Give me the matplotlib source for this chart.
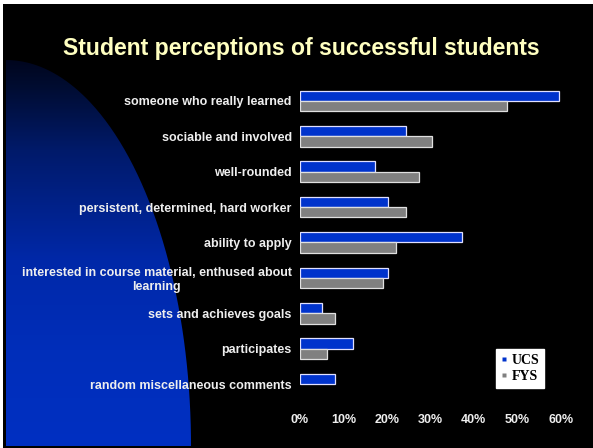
import numpy as np
import matplotlib
matplotlib.use("Agg")
import matplotlib.pyplot as plt
from matplotlib.patches import Rectangle, PathPatch
from matplotlib.path import Path
from matplotlib.lines import Line2D

# ---- data ----
categories = [
    "someone who really learned",
    "sociable and involved",
    "well-rounded",
    "persistent, determined, hard worker",
    "ability to apply",
    "interested in course material, enthused about\nlearning",
    "sets and achieves goals",
    "participates",
    "random miscellaneous comments",
]
ucs = [59.6, 24.3, 17.3, 20.3, 37.3, 20.3, 5.1, 12.1, 8.1]
fys = [47.6, 30.4, 27.3, 24.3, 22.2, 19.2, 8.1, 6.1, 0.0]
series_names = ["UCS", "FYS"]
x_ticks = [0, 10, 20, 30, 40, 50, 60]
x_tick_labels = ["0%", "10%", "20%", "30%", "40%", "50%", "60%"]

UCS_COLOR = "#0033CC"
FYS_COLOR = "#808080"
TEXT_COLOR = "#EEEEEE"
SANS = ["Liberation Sans", "DejaVu Sans"]

W, H = 593, 448
fig = plt.figure(figsize=(W / 100, H / 100), dpi=100, facecolor="white")

# ---- slide background: black panel with a blue quarter-ellipse ----
bg = fig.add_axes([0, 0, 1, 1], zorder=0)
bg.set_xlim(0, W)
bg.set_ylim(H, 0)
bg.axis("off")
bg.add_patch(Rectangle((3, 4), W - 3, H - 4, color="black", lw=0, zorder=0))

cx, cy, a, b = 6, 446, 185, 386
t = np.linspace(0, np.pi / 2, 200)
arc = np.column_stack([cx + a * np.sin(t), cy - b * np.cos(t)])
verts = np.vstack([[cx, cy], arc, [cx, cy]])
shape = PathPatch(Path(verts), facecolor="none", edgecolor="none",
                  transform=bg.transData, zorder=1)
bg.add_patch(shape)

ys = np.linspace(cy - b, cy, 400)
stops_y = [60, 85, 150, 260, 350, 446]
stops_r = [0, 0, 0, 0, 0, 0]
stops_g = [6, 12, 26, 40, 46, 48]
stops_b = [30, 48, 106, 168, 186, 194]
grad = np.stack([
    np.interp(ys, stops_y, stops_r),
    np.interp(ys, stops_y, stops_g),
    np.interp(ys, stops_y, stops_b),
], axis=-1)[:, None, :] / 255.0
img = bg.imshow(grad, extent=(cx, cx + a, cy, cy - b), origin="upper",
                aspect="auto", interpolation="bilinear", zorder=2)
img.set_clip_path(shape)
bg.set_xlim(0, W)
bg.set_ylim(H, 0)

# ---- title ----
fig.text(301 / W, 1 - 48 / H, "Student perceptions of successful students",
         ha="center", va="center", fontsize=16.6, fontweight="bold",
         color="#FFFFC0", family=SANS)

# ---- bar chart ----
ax = fig.add_axes([300 / W, 1 - 401.7 / H, 260.7 / W, 318.4 / H], zorder=1)
ax.set_facecolor("none")
y = np.arange(len(categories))
h = 0.29
ax.barh(y - h / 2, ucs, height=h, color=UCS_COLOR, edgecolor="#E0E0FF",
        linewidth=[0.9 if v > 0 else 0 for v in ucs])
ax.barh(y + h / 2, fys, height=h, color=FYS_COLOR, edgecolor="#E0E0E0",
        linewidth=[0.9 if v > 0 else 0 for v in fys])

ax.set_xlim(0, 60)
ax.set_ylim(len(categories) - 0.5, -0.5)
ax.set_xticks(x_ticks, x_tick_labels)
ax.set_yticks(y, categories)
for s in ax.spines.values():
    s.set_visible(False)
ax.tick_params(axis="x", length=0, pad=9, labelcolor=TEXT_COLOR, labelsize=9)
ax.tick_params(axis="y", length=0, pad=6, labelcolor=TEXT_COLOR, labelsize=9)
for lbl in ax.get_xticklabels() + ax.get_yticklabels():
    lbl.set_fontweight("bold")
    lbl.set_family(SANS)
for lbl in ax.get_yticklabels():
    lbl.set_multialignment("center")

handles = [
    Line2D([], [], marker="s", linestyle="none", markersize=3.5,
           markerfacecolor=UCS_COLOR, markeredgecolor="none"),
    Line2D([], [], marker="s", linestyle="none", markersize=3.5,
           markerfacecolor=FYS_COLOR, markeredgecolor="none"),
]
leg = ax.legend(handles, series_names, loc="upper left",
                bbox_to_anchor=(495.7 / W, 1 - 349.3 / H),
                bbox_transform=fig.transFigure, borderaxespad=0,
                frameon=True, fancybox=False, framealpha=1,
                facecolor="white", edgecolor="white",
                prop=dict(family=["Liberation Serif", "DejaVu Serif"],
                          weight="bold", size=10),
                handlelength=0.5, handletextpad=0.3, borderpad=0.35,
                labelspacing=0.2)
for txt in leg.get_texts():
    txt.set_color("black")

fig.savefig("out.png", dpi=100, facecolor=fig.get_facecolor())
